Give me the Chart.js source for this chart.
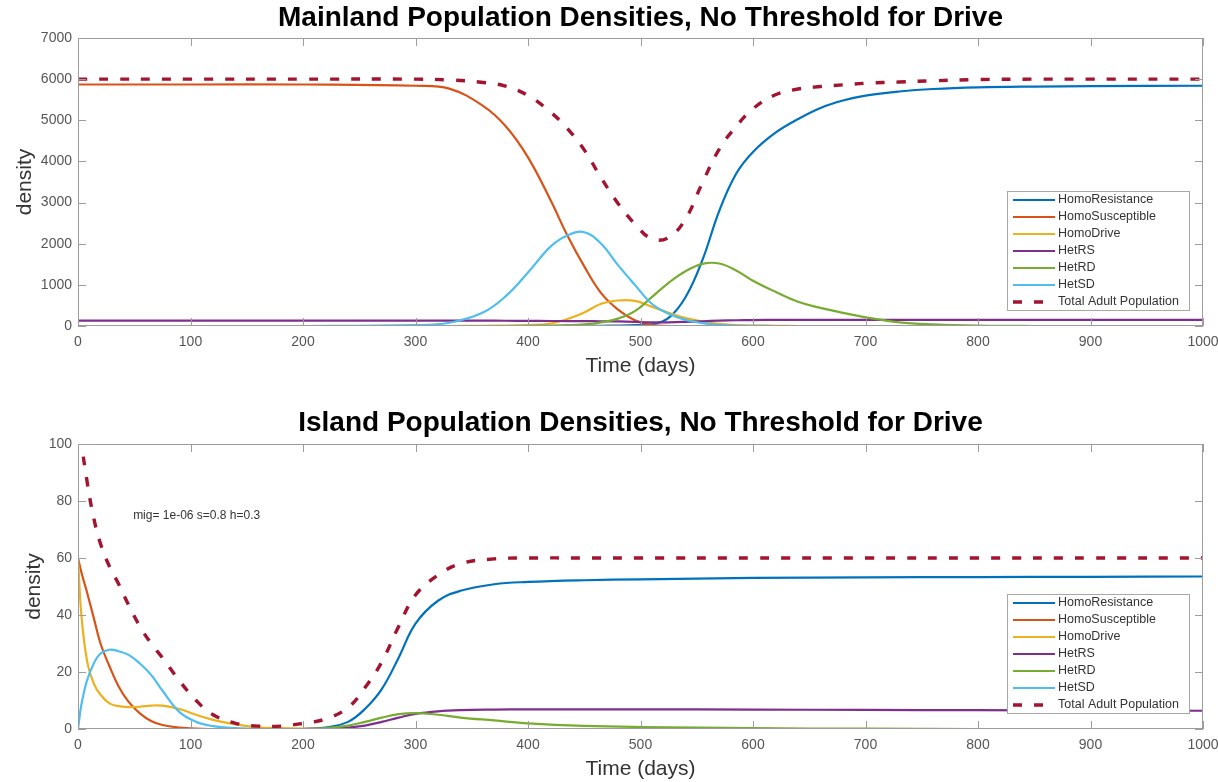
<!doctype html>
<html>
<head>
<title>Population Densities</title>
<script src="https://cdn.jsdelivr.net/npm/chart.js@4.4.0/dist/chart.umd.min.js"></script>
<style>
body { margin: 0; background: #fff; }
.box { position: absolute; left: 0; width: 1218px; }
</style>
</head>
<body>
<div class="box" style="top:0;height:382px"><canvas id="mainland" width="1218" height="382"></canvas></div>
<div class="box" style="top:405px;height:377px"><canvas id="island" width="1218" height="377"></canvas></div>
<script>
const seriesNames = ['HomoResistance', 'HomoSusceptible', 'HomoDrive', 'HetRS', 'HetRD', 'HetSD', 'Total Adult Population'];
const seriesColors = ['#0072BD', '#D95319', '#EDB120', '#7E2F8E', '#77AC30', '#4DBEEE', '#A2142F'];

// mainland
const mainDays = [0, 100, 200, 300, 330, 360, 380, 400, 420, 435, 450, 465, 480, 495, 510, 525, 540, 555, 570, 585, 600, 620, 640, 660, 680, 700, 730, 760, 800, 850, 900, 1000];
const mainHomoResistance = [0, 0, 0, 0, 0, 0, 0, 0, 0, 0, 0, 5, 10, 20, 40, 200, 700, 1600, 2800, 3700, 4230, 4700, 5030, 5300, 5480, 5600, 5700, 5760, 5800, 5820, 5830, 5840];
const mainHomoSusceptible = [5870, 5870, 5870, 5840, 5770, 5350, 4860, 4100, 3060, 2200, 1450, 800, 400, 140, 20, 0, 0, 0, 0, 0, 0, 0, 0, 0, 0, 0, 0, 0, 0, 0, 0, 0];
const mainHomoDrive = [0, 0, 0, 0, 0, 5, 10, 20, 60, 170, 330, 540, 620, 610, 470, 320, 190, 110, 50, 20, 10, 5, 0, 0, 0, 0, 0, 0, 0, 0, 0, 0];
const mainHetRS = [130, 130, 130, 130, 130, 130, 128, 125, 122, 120, 118, 115, 110, 100, 90, 90, 100, 115, 130, 140, 145, 150, 150, 150, 150, 150, 150, 150, 150, 150, 150, 150];
const mainHetRD = [0, 0, 0, 0, 0, 0, 0, 5, 10, 20, 40, 90, 180, 360, 700, 1050, 1330, 1510, 1520, 1350, 1100, 830, 590, 440, 320, 210, 90, 40, 10, 0, 0, 0];
const mainHetSD = [0, 0, 0, 20, 80, 330, 720, 1300, 1930, 2200, 2280, 2000, 1480, 1000, 540, 300, 150, 70, 25, 10, 5, 0, 0, 0, 0, 0, 0, 0, 0, 0, 0, 0];
const mainTotal = [6000, 6000, 6000, 6000, 5980, 5920, 5830, 5600, 5200, 4800, 4280, 3600, 2980, 2480, 2120, 2150, 2600, 3480, 4300, 4850, 5280, 5620, 5760, 5820, 5860, 5900, 5930, 5960, 5990, 6000, 6000, 6000];

// island
const islandDays = [0, 3, 8, 14, 20, 28, 36, 45, 55, 65, 75, 90, 105, 120, 140, 160, 180, 200, 220, 240, 255, 270, 285, 300, 320, 340, 370, 400, 450, 500, 600, 700, 800, 900, 1000];
const islandHomoResistance = [0, 0, 0, 0, 0, 0, 0, 0, 0, 0, 0, 0, 0, 0, 0, 0, 0, 0, 0.5, 2.5, 7, 14, 25, 37, 45, 48.5, 50.8, 51.6, 52.2, 52.5, 53, 53.2, 53.3, 53.4, 53.5];
const islandHomoSusceptible = [60, 55, 48, 39, 30, 22, 15, 9.5, 5.5, 2.8, 1.4, 0.5, 0.1, 0, 0, 0, 0, 0, 0, 0, 0, 0, 0, 0, 0, 0, 0, 0, 0, 0, 0, 0, 0, 0, 0];
const islandHomoDrive = [60, 40, 24, 16, 12, 9, 8, 7.7, 7.8, 8.2, 8.2, 7, 5, 3.2, 1.6, 0.6, 0.3, 0.1, 0, 0, 0, 0, 0, 0, 0, 0, 0, 0, 0, 0, 0, 0, 0, 0, 0];
const islandHetRS = [0, 0, 0, 0, 0, 0, 0, 0, 0, 0, 0, 0, 0, 0, 0, 0, 0, 0, 0.1, 0.5, 1.2, 2.5, 4, 5.3, 6.2, 6.6, 6.8, 6.9, 6.9, 6.9, 6.8, 6.7, 6.6, 6.5, 6.4];
const islandHetRD = [0, 0, 0, 0, 0, 0, 0, 0, 0, 0, 0, 0, 0, 0, 0, 0, 0, 0, 0.3, 1.2, 2.5, 4, 5.2, 5.6, 5, 4, 3, 2, 1.1, 0.7, 0.3, 0.1, 0, 0, 0];
const islandHetSD = [0, 8.5, 17, 23, 26.5, 27.8, 27.3, 26, 23, 19, 13.5, 6, 2.5, 1, 0.3, 0, 0, 0, 0, 0, 0, 0, 0, 0, 0, 0, 0, 0, 0, 0, 0, 0, 0, 0, 0];
const islandTotal = [125, 102, 87, 74, 65, 57, 51, 43.5, 36, 30, 25, 17, 10, 5, 2, 1, 1, 2, 3.5, 7.5, 14.5, 23.5, 36, 47, 54, 58, 59.7, 60, 60, 60, 60, 60, 60, 60, 60];

const FONT = '"Liberation Sans", Arial, sans-serif';

const frameAndLegend = {
	id: 'frameAndLegend',
	afterDraw(chart, args, opts) {
		const {ctx, chartArea: a, scales} = chart;
		ctx.save();
		// box + inward ticks
		ctx.strokeStyle = '#9c9c9c';
		ctx.lineWidth = 1;
		ctx.strokeRect(a.left + 0.5, a.top + 0.5, a.width - 1, a.height - 1);
		ctx.beginPath();
		scales.x.ticks.forEach(t => {
			const px = Math.round(scales.x.getPixelForValue(t.value)) + 0.5;
			ctx.moveTo(px, a.bottom); ctx.lineTo(px, a.bottom - 8);
			ctx.moveTo(px, a.top); ctx.lineTo(px, a.top + 8);
		});
		scales.y.ticks.forEach(t => {
			const py = Math.round(scales.y.getPixelForValue(t.value)) + 0.5;
			ctx.moveTo(a.left, py); ctx.lineTo(a.left + 8, py);
			ctx.moveTo(a.right, py); ctx.lineTo(a.right - 8, py);
		});
		ctx.stroke();

		// legend box, bottom right inside the axes
		const sets = chart.data.datasets;
		const w = 182, rowH = 17, h = sets.length * rowH;
		const x0 = a.right - 14 - w, y0 = a.bottom - 16 - h;
		ctx.fillStyle = '#fff';
		ctx.fillRect(x0, y0, w, h);
		ctx.strokeStyle = '#a8a8a8';
		ctx.strokeRect(x0 + 0.5, y0 + 0.5, w, h);
		ctx.font = '12.5px ' + FONT;
		ctx.textBaseline = 'middle';
		sets.forEach((ds, i) => {
			const cy = y0 + 9 + i * rowH;
			ctx.strokeStyle = ds.borderColor;
			ctx.lineWidth = ds.borderWidth;
			ctx.setLineDash(ds.borderDash || []);
			ctx.beginPath();
			ctx.moveTo(x0 + 6, cy); ctx.lineTo(x0 + 48, cy);
			ctx.stroke();
			ctx.setLineDash([]);
			ctx.fillStyle = '#333';
			ctx.fillText(ds.label, x0 + 51, cy);
		});

		if (opts.note) {
			ctx.font = '12px ' + FONT;
			ctx.fillStyle = '#333';
			ctx.textBaseline = 'middle';
			ctx.fillText(opts.note.text, scales.x.getPixelForValue(opts.note.x), scales.y.getPixelForValue(opts.note.y));
		}
		ctx.restore();
	}
};

function makeDatasets(days, series) {
	return series.map((vals, i) => {
		const dashed = i === series.length - 1;
		return {
			label: seriesNames[i],
			data: days.map((d, j) => ({x: d, y: vals[j]})),
			borderColor: seriesColors[i],
			backgroundColor: seriesColors[i],
			borderWidth: dashed ? 3.4 : 2.2,
			borderDash: dashed ? [9, 12] : [],
			pointRadius: 0,
			tension: 0.4,
			fill: false,
			order: series.length - i
		};
	});
}

function createChart(id, title, days, series, yMax, yStep, p) {
	return new Chart(document.getElementById(id), {
		type: 'line',
		data: { datasets: makeDatasets(days, series) },
		options: {
			responsive: false,
			animation: false,
			layout: { padding: { left: 0, right: 15, top: 0, bottom: 0 } },
			plugins: {
				legend: { display: false },
				tooltip: { enabled: false },
				title: {
					display: true,
					fullSize: false,
					text: title,
					color: '#000',
					font: { family: FONT, size: 28, weight: 'bold' },
					padding: { top: 1, bottom: p.titleBottom }
				},
				frameAndLegend: { note: p.note }
			},
			scales: {
				x: {
					type: 'linear',
					min: 0, max: 1000,
					afterFit: s => { s.height = p.xHeight; s.paddingRight = 0; s.paddingLeft = 0; },
					grid: { display: false, drawTicks: false },
					border: { display: false },
					ticks: { stepSize: 100, padding: 8, color: '#555', font: { family: FONT, size: 14 }, maxRotation: 0, callback: v => String(v) },
					title: { display: true, text: 'Time (days)', color: '#333', font: { family: FONT, size: 21 }, padding: { top: 0, bottom: p.xTitleBottom } }
				},
				y: {
					min: 0, max: yMax,
					afterFit: s => { s.width = 78; s.paddingTop = 0; s.paddingBottom = 0; },
					grid: { display: false, drawTicks: false },
					border: { display: false },
					ticks: { stepSize: yStep, padding: 6, color: '#555', font: { family: FONT, size: 14 }, callback: v => String(v) },
					title: { display: true, text: 'density', color: '#333', font: { family: FONT, size: 21 }, padding: { top: p.yTitleTop, bottom: 0 } }
				}
			}
		},
		plugins: [frameAndLegend]
	});
}

createChart('mainland', 'Mainland Population Densities, No Threshold for Drive', mainDays,
	[mainHomoResistance, mainHomoSusceptible, mainHomoDrive, mainHetRS, mainHetRD, mainHetSD, mainTotal],
	7000, 1000, { titleBottom: 3.4, xHeight: 56, xTitleBottom: 3, yTitleTop: 13 });

createChart('island', 'Island Population Densities, No Threshold for Drive', islandDays,
	[islandHomoResistance, islandHomoSusceptible, islandHomoDrive, islandHetRS, islandHetRD, islandHetSD, islandTotal],
	100, 20, { titleBottom: 4.4, xHeight: 53, xTitleBottom: 0, yTitleTop: 22,
		note: { text: 'mig= 1e-06 s=0.8 h=0.3', x: 49, y: 75 } });
</script>
</body>
</html>
